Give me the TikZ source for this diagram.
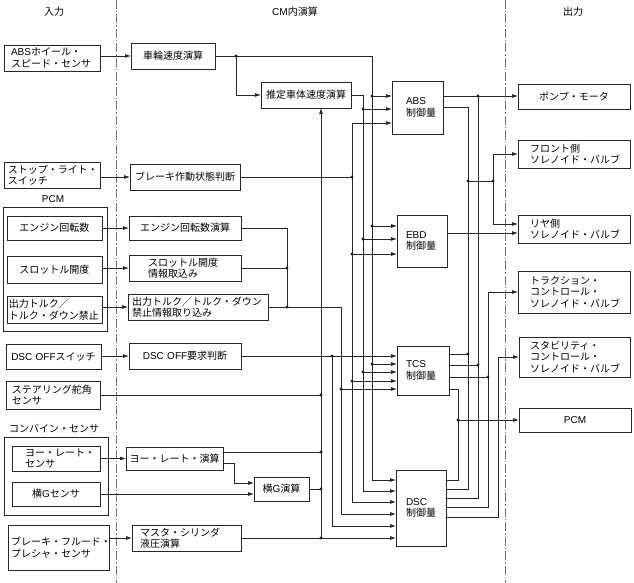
\documentclass[tikz,border=0pt]{standalone}
\usepackage{fontspec}
\setmainfont{Noto Sans CJK JP}
\newfontfamily\latfont{Liberation Sans}
\newcommand\rmlat[1]{{\latfont #1}}
\usetikzlibrary{arrows.meta,calc}
\newcommand\jdot[1]{\fill[black!90] (#1) circle[radius=1.7];}
\begin{document}
\begin{tikzpicture}[x=1pt,y=-1pt,
  font=\fontsize{10}{11.5}\selectfont,
  bx/.style={draw=black!85, line width=0.8pt, outer sep=0pt, inner ysep=1pt, anchor=north west, text=black},
  ln/.style={draw=black!85, line width=0.75pt},
  arr/.style={ln, -{Latex[length=6pt,width=4pt]}},
  sepline/.style={draw=black!55, line width=0.7pt, dash pattern=on 9pt off 2pt on 1.5pt off 2pt},
]
\useasboundingbox (0,0) rectangle (634,583);
\fill[white] (0,0) rectangle (634,583);
% separators
\draw[sepline] (116,0) -- (116,583);
\draw[sepline] (505,0) -- (505,583);
% headers
\node (hIn) at (54,12) {入力};
\node (hCM) at (295,12) {\rmlat{CM}内演算};
\node (hOut) at (573,12) {出力};
\node (lPCM) at (53,199) {\rmlat{PCM}};
\node[anchor=west, inner xsep=0pt] (lComb) at (9,429) {コンバイン・センサ};
% group boxes
\node[bx, minimum width=104, minimum height=124] (gPCM) at (3,207) {};
\node[bx, minimum width=104, minimum height=78] (gComb) at (4,437) {};
% inputs
\node[bx, text width=82, inner xsep=7, minimum height=26, align=left] (sABS) at (4,45) {\rmlat{ABS}ホイール・\\スピード・センサ};
\node[bx, text width=88, inner xsep=4, minimum height=26, align=left] (sStop) at (4,162) {ストップ・ライト・\\スイッチ};
\node[bx, text width=91, inner xsep=2, minimum height=24, align=center] (sEng) at (7,216) {エンジン回転数};
\node[bx, text width=91, inner xsep=2, minimum height=27, align=center] (sThr) at (7,256) {スロットル開度};
\node[bx, text width=91, inner xsep=2, minimum height=27, align=left] (sTrq) at (7,296) {出力トルク／\\トルク・ダウン禁止};
\node[bx, text width=91, inner xsep=2, minimum height=25, align=center] (sDSC) at (6,344) {\rmlat{DSC OFF}スイッチ};
\node[bx, text width=82, inner xsep=6, minimum height=28, align=left] (sStr) at (6,381) {ステアリング舵角\\センサ};
\node[bx, text width=62, inner xsep=13, minimum height=25, align=left] (sYaw) at (12,446) {ヨー・レート・\\センサ};
\node[bx, text width=84, inner xsep=2, minimum height=24, align=center] (sLatG) at (12,482) {横\rmlat{G}センサ};
\node[bx, text width=95, inner xsep=3, minimum height=45, align=left] (sBrk) at (8,525) {ブレーキ・フルード・\\プレシャ・センサ};
% middle
\node[bx, text width=80, inner xsep=2, minimum height=26, align=center] (cWheel) at (131,43) {車輪速度演算};
\node[bx, text width=86, inner xsep=2, minimum height=26, align=center] (cEst) at (261,82) {推定車体速度演算};
\node[bx, text width=106, inner xsep=2, minimum height=26, align=center] (cBrake) at (130,164) {ブレーキ作動状態判断};
\node[bx, text width=108, inner xsep=2, minimum height=24, align=center] (cEng) at (129,216) {エンジン回転数演算};
\node[bx, text width=74, inner xsep=19, minimum height=26, align=left] (cThr) at (129,255) {スロットル開度\\情報取込み};
\node[bx, text width=132, inner xsep=4, minimum height=26, align=left] (cTrq) at (128,294) {出力トルク／トルク・ダウン\\禁止情報取り込み};
\node[bx, text width=108, inner xsep=2, minimum height=26, align=center] (cDSC) at (129,343) {\rmlat{DSC OFF}要求判断};
\node[bx, text width=93, inner xsep=2, minimum height=23, align=center] (cYaw) at (126,447) {ヨー・レート・演算};
\node[bx, text width=51, inner xsep=2, minimum height=24, align=center] (cLatG) at (254,477) {横\rmlat{G}演算};
\node[bx, text width=93, inner xsep=8, minimum height=26, align=left] (cMas) at (132,525) {マスタ・シリンダ\\液圧演算};
% control
\node[bx, text width=23, inner xsep=14, minimum height=53, align=left] (kABS) at (392,81) {\rmlat{ABS}\\制御量};
\node[bx, text width=32, inner xsep=9, minimum height=52, align=left] (kEBD) at (397,215) {\rmlat{EBD}\\制御量};
\node[bx, text width=34, inner xsep=9, minimum height=49, align=left] (kTCS) at (397,346) {\rmlat{TCS}\\制御量};
\node[bx, text width=30, inner xsep=10, minimum height=76, align=left] (kDSC) at (396,470) {\rmlat{DSC}\\制御量};
% outputs
\node[bx, text width=108, inner xsep=2, minimum height=25, align=center] (oPump) at (518,84) {ポンプ・モータ};
\node[bx, text width=88, inner xsep=12, minimum height=28, align=left] (oFront) at (518,140) {フロント側\\ソレノイド・バルブ};
\node[bx, text width=88, inner xsep=12, minimum height=28, align=left] (oRear) at (518,215) {リヤ側\\ソレノイド・バルブ};
\node[bx, text width=88, inner xsep=12, minimum height=42, align=left] (oTrac) at (518,271) {トラクション・\\コントロール・\\ソレノイド・バルブ};
\node[bx, text width=89, inner xsep=11, minimum height=40, align=left] (oStab) at (519,337) {スタビリティ・\\コントロール・\\ソレノイド・バルブ};
\node[bx, text width=108, inner xsep=2, minimum height=24, align=center] (oPCM) at (519,408) {\rmlat{PCM}};
% bus x positions
\coordinate (xV) at (236,0);
\coordinate (xJ) at (287,0);
\coordinate (xS) at (321,0);
\coordinate (xD) at (332,0);
\coordinate (xP) at (341,0);
\coordinate (xB) at (352,0);
\coordinate (xE) at (363,0);
\coordinate (xW) at (372,0);
\coordinate (x58) at (458,0);
\coordinate (x68) at (468,0);
\coordinate (x78) at (478,0);
\coordinate (x88) at (488,0);
\coordinate (x93) at (493,0);
\coordinate (x98) at (498,0);
\coordinate (jy) at (0,181);
% ports
\coordinate (a1) at ($(kABS.north west)+(0,15)$);
\coordinate (a2) at ($(kABS.north west)+(0,28)$);
\coordinate (a3) at ($(kABS.north west)+(0,42)$);
\coordinate (e1) at ($(kEBD.north west)+(0,11)$);
\coordinate (e2) at ($(kEBD.north west)+(0,24)$);
\coordinate (e3) at ($(kEBD.north west)+(0,39)$);
\coordinate (t1) at ($(kTCS.north west)+(0,10)$);
\coordinate (t2) at ($(kTCS.north west)+(0,18)$);
\coordinate (t3) at ($(kTCS.north west)+(0,26)$);
\coordinate (t4) at ($(kTCS.north west)+(0,35)$);
\coordinate (t5) at ($(kTCS.north west)+(0,43)$);
\coordinate (d1) at ($(kDSC.north west)+(0,10)$);
\coordinate (d2) at ($(kDSC.north west)+(0,21)$);
\coordinate (d3) at ($(kDSC.north west)+(0,32)$);
\coordinate (d4) at ($(kDSC.north west)+(0,44)$);
\coordinate (d5) at ($(kDSC.north west)+(0,56)$);
\coordinate (d6) at ($(kDSC.north west)+(0,68)$);
\coordinate (ao1) at ($(kABS.north east)+(0,15)$);
\coordinate (ao2) at ($(kABS.north east)+(0,26)$);
\coordinate (eo) at ($(kEBD.north east)+(0,18)$);
\coordinate (to1) at ($(kTCS.north east)+(0,8)$);
\coordinate (to2) at ($(kTCS.north east)+(0,19)$);
\coordinate (to3) at ($(kTCS.north east)+(0,31)$);
\coordinate (to4) at ($(kTCS.north east)+(0,43)$);
\coordinate (do1) at ($(kDSC.north east)+(0,10)$);
\coordinate (do2) at ($(kDSC.north east)+(0,19)$);
\coordinate (do3) at ($(kDSC.north east)+(0,28)$);
\coordinate (do4) at ($(kDSC.north east)+(0,37)$);
\coordinate (do5) at ($(kDSC.north east)+(0,47)$);
\coordinate (r1) at ($(oRear.north west)+(0,9)$);
\coordinate (r2) at ($(oRear.north west)+(0,18)$);
\coordinate (lg1) at ($(cLatG.north west)+(0,6)$);
\coordinate (lg2) at ($(cLatG.north west)+(0,17)$);
\coordinate (yo1) at ($(cYaw.north east)+(0,5)$);
\coordinate (yo2) at ($(cYaw.north east)+(0,16)$);
% input connectors
\draw[arr] (sABS.east |- cWheel.west) -- (cWheel.west);
\draw[arr] (sStop.east |- cBrake.west) -- (cBrake.west);
\draw[arr] (sEng.east |- cEng.west) -- (cEng.west);
\draw[arr] (sThr.east |- cThr.west) -- (cThr.west);
\draw[arr] (sTrq.east |- cTrq.west) -- (cTrq.west);
\draw[arr] (sDSC.east |- cDSC.west) -- (cDSC.west);
\draw[arr] (sYaw.east |- cYaw.west) -- (cYaw.west);
\draw[arr] (sLatG.east) -- (lg2);
\draw[arr] (yo2) -- ++(11,0) |- (lg1);
\draw[arr] (sBrk.east |- cMas.west) -- (cMas.west);
% wheel speed bus
\draw[arr] (cWheel.east) -| (xW |- d1) -- (d1);
\draw[arr] (xV |- cWheel.east) |- (cEst.west);
\draw[arr] (xW |- a1) -- (a1);
\draw[arr] (xW |- e1) -- (e1);
\draw[arr] (xW |- t2) -- (t2);
\jdot{xV |- cWheel.east}\jdot{xW |- a1}\jdot{xW |- e1}\jdot{xW |- t2}
% estimated speed bus
\draw[arr] (cEst.east) -| (xE |- d2) -- (d2);
\draw[arr] (xE |- a2) -- (a2);
\draw[arr] (xE |- e2) -- (e2);
\draw[arr] (xE |- t3) -- (t3);
\jdot{xE |- a2}\jdot{xE |- e2}\jdot{xE |- t3}
% brake state bus
\draw[arr] (xB |- a3) -- (xB |- d3) -- (d3);
\draw[arr] (xB |- a3) -- (a3);
\draw[ln] (cBrake.east) -- (xB |- cBrake.east);
\draw[arr] (xB |- e3) -- (e3);
\draw[arr] (xB |- t4) -- (t4);
\jdot{xB |- cBrake.east}\jdot{xB |- e3}\jdot{xB |- t4}
% PCM information bus
\draw[ln] (cEng.east) -| (xJ |- cTrq.east);
\draw[ln] (cThr.east) -- (xJ |- cThr.east);
\draw[arr] (cTrq.east) -| (xP |- d4) -- (d4);
\draw[arr] (xP |- t5) -- (t5);
\jdot{xJ |- cThr.east}\jdot{xJ |- cTrq.east}\jdot{xP |- t5}
% DSC OFF
\draw[arr] (cDSC.east) -- (t1);
\draw[arr] (xD |- t1) -- (xD |- d5) -- (d5);
\jdot{xD |- t1}
% sensor bus
\draw[ln] (sStr.east) -- (xS |- sStr.east);
\draw[ln] (yo1) -- (xS |- yo1);
\draw[ln] (cLatG.east) -- (xS |- cLatG.east);
\draw[arr] (cMas.east) -- (d6);
\draw[arr] (xS |- cMas.east) -- (xS |- cEst.south);
\jdot{xS |- sStr.east}\jdot{xS |- yo1}\jdot{xS |- cLatG.east}\jdot{xS |- cMas.east}
% outputs: pump motor
\draw[arr] (ao1) -- (oPump.west |- ao1);
\draw[ln] (do3) -| (x78 |- ao1);
\draw[ln] (to2) -- (x78 |- to2);
\jdot{x78 |- ao1}\jdot{x78 |- to2}
% front / rear valves
\draw[ln] (ao2) -| (x68 |- do2) -- (do2);
\draw[ln] (to1) -- (x68 |- to1);
\draw[ln] (x68 |- jy) -- (x93 |- jy);
\draw[arr] (x93 |- jy) |- (oFront.west);
\draw[arr] (x93 |- jy) |- (r1);
\draw[arr] (eo) -- (r2);
\jdot{x68 |- jy}\jdot{x93 |- jy}\jdot{x68 |- to1}
% PCM out
\draw[ln] (to4) -| (x58 |- do1) -- (do1);
\draw[arr] (x58 |- oPCM.west) -- (oPCM.west);
\jdot{x58 |- oPCM.west}
% traction valve
\draw[arr] (do4) -| (x88 |- oTrac.west) -- (oTrac.west);
\draw[ln] (to3) -- (x88 |- to3);
\jdot{x88 |- to3}
% stability valve
\draw[arr] (do5) -| (x98 |- oStab.west) -- (oStab.west);
\end{tikzpicture}
\end{document}
